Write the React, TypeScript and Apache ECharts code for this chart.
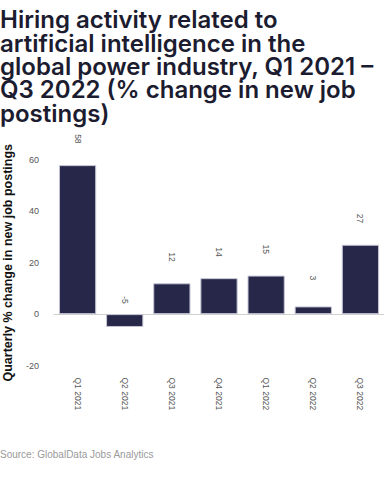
import React, { useEffect, useRef } from "react";
import * as echarts from "echarts";

const categories = ["Q1 2021", "Q2 2021", "Q3 2021", "Q4 2021", "Q1 2022", "Q2 2022", "Q3 2022"];
const values = [58, -5, 12, 14, 15, 3, 27];
const yTicks = { min: -20, max: 60, interval: 20 };
const titleText = "Hiring activity related to\nartificial intelligence in the\nglobal power industry, Q1 2021 –\nQ3 2022 (% change in new job\npostings)";
const yAxisName = "Quarterly % change in new job postings";
const sourceText = "Source: GlobalData Jobs Analytics";

export default function App() {
  const ref = useRef<HTMLDivElement>(null);
  useEffect(() => {
    document.body.style.margin = "0";
    const chart = echarts.init(ref.current!, null, { renderer: "svg" });
    chart.setOption({
      animation: false,
      backgroundColor: "#ffffff",
      title: {
        text: titleText,
        left: -5,
        top: 3,
        textStyle: {
          fontFamily: "Inter",
          fontWeight: 600,
          fontSize: 24,
          lineHeight: 23.4,
          color: "#1c1c30",
        },
      },
      graphic: [
        {
          type: "text",
          left: 0,
          top: 449,
          style: {
            text: sourceText,
            fontFamily: "Liberation Sans",
            fontSize: 10,
            fill: "#9a9a9a",
          },
        },
      ],
      grid: { left: 54, right: 0, top: 160, height: 205.5, outerBoundsMode: "none", containLabel: false },
      xAxis: {
        type: "category",
        data: categories,
        axisLine: { lineStyle: { color: "#d0d0d0" } },
        axisTick: { show: false },
        axisLabel: {
          rotate: -90,
          margin: 12,
          fontSize: 8.5,
          color: "#555555",
          fontFamily: "Liberation Sans",
        },
      },
      yAxis: {
        type: "value",
        min: yTicks.min,
        max: yTicks.max,
        interval: yTicks.interval,
        splitLine: { show: false },
        axisLine: { show: false },
        axisTick: { show: false },
        axisLabel: { margin: 15, fontSize: 9, color: "#555555", fontFamily: "Liberation Sans" },
        name: yAxisName,
        nameLocation: "middle",
        nameGap: 40,
        nameTextStyle: { fontSize: 12.5, fontWeight: "bold", color: "#111111", fontFamily: "Liberation Sans" },
      },
      series: [
        {
          type: "bar",
          data: values.map((v) => ({
            value: v,
            label: v < 0 ? { distance: 18 } : undefined,
          })),
          barWidth: "79%",
          itemStyle: { color: "#272849", borderColor: "#c4c4d4", borderWidth: 1 },
          label: {
            show: true,
            position: "top",
            distance: 31,
            rotate: -90,
            align: "left",
            verticalAlign: "middle",
            fontSize: 8.5,
            color: "#555555",
            fontFamily: "Liberation Sans",
          },
        },
      ],
    });
    return () => chart.dispose();
  }, []);
  return <div ref={ref} style={{ width: 384, height: 478 }} />;
}
